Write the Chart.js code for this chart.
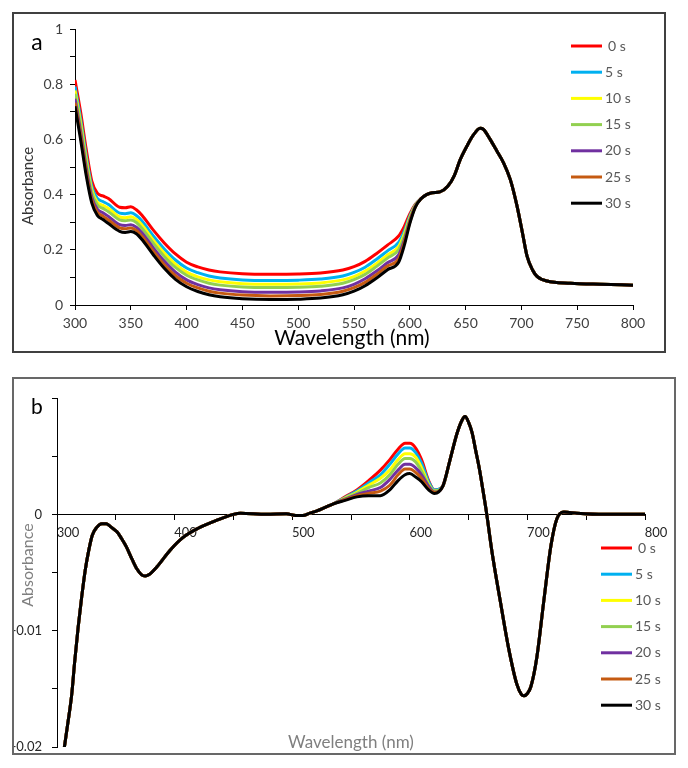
<!DOCTYPE html>
<html>
<head>
<meta charset="utf-8">
<script src="https://cdn.jsdelivr.net/npm/chart.js@4.4.1/dist/chart.umd.min.js"></script>
<style>
  body { margin: 0; background: #fff; width: 688px; height: 768px; position: relative; overflow: hidden; }
  .panel { position: absolute; }
  .panel canvas { position: absolute; left: 0; top: 0; }
  .frame { position: absolute; left: 0; top: 0; right: 0; bottom: 0; box-sizing: border-box; pointer-events: none; }
  #panelA { left: 12px; top: 12px; width: 654px; height: 341px; }
  #panelA .frame { border: 2px solid #404040; }
  #panelB { left: 12px; top: 377px; width: 664px; height: 378px; }
  #panelB .frame { border: 2px solid #686868; }
</style>
</head>
<body>
<div class="panel" id="panelA"><canvas id="chartA" width="654" height="341"></canvas><div class="frame"></div></div>
<div class="panel" id="panelB"><canvas id="chartB" width="664" height="378"></canvas><div class="frame"></div></div>
<script>
const seriesLabels = ["0 s", "5 s", "10 s", "15 s", "20 s", "25 s", "30 s"];
const seriesColors = ["#ff0000", "#00b0f0", "#ffff00", "#92d050", "#7030a0", "#c55a11", "#000000"];

// ---- panel a: absorbance spectra ----
// wavelengths where the seven spectra are apart
const wlA = [300, 305, 310, 315, 320, 325, 330, 340, 345, 350, 355, 360, 370, 380, 390, 400, 410, 420, 430, 450, 475, 500, 520, 540, 550, 560, 570, 580, 590, 595, 600, 605];
const absA0s  = [0.815, 0.700, 0.565, 0.450, 0.405, 0.395, 0.386, 0.354, 0.352, 0.356, 0.345, 0.325, 0.272, 0.225, 0.185, 0.155, 0.138, 0.127, 0.120, 0.113, 0.111, 0.112, 0.116, 0.127, 0.139, 0.158, 0.186, 0.217, 0.250, 0.284, 0.330, 0.365];
const absA5s  = [0.792, 0.676, 0.542, 0.431, 0.386, 0.375, 0.364, 0.333, 0.331, 0.334, 0.324, 0.304, 0.251, 0.203, 0.163, 0.134, 0.117, 0.105, 0.098, 0.091, 0.089, 0.090, 0.094, 0.105, 0.118, 0.137, 0.165, 0.196, 0.227, 0.267, 0.322, 0.363];
const absA10s = [0.777, 0.660, 0.527, 0.418, 0.373, 0.361, 0.350, 0.319, 0.316, 0.320, 0.310, 0.290, 0.236, 0.188, 0.148, 0.119, 0.102, 0.091, 0.084, 0.077, 0.075, 0.076, 0.080, 0.091, 0.103, 0.123, 0.150, 0.181, 0.212, 0.256, 0.316, 0.361];
const absA15s = [0.765, 0.647, 0.515, 0.408, 0.363, 0.350, 0.338, 0.308, 0.305, 0.308, 0.299, 0.278, 0.225, 0.176, 0.136, 0.108, 0.091, 0.079, 0.072, 0.065, 0.063, 0.064, 0.068, 0.079, 0.092, 0.111, 0.139, 0.170, 0.200, 0.247, 0.311, 0.360];
const absA20s = [0.747, 0.628, 0.497, 0.392, 0.347, 0.334, 0.321, 0.291, 0.288, 0.291, 0.282, 0.262, 0.208, 0.159, 0.119, 0.091, 0.074, 0.062, 0.055, 0.048, 0.046, 0.047, 0.051, 0.062, 0.075, 0.095, 0.122, 0.153, 0.182, 0.234, 0.305, 0.358];
const absA25s = [0.733, 0.614, 0.483, 0.381, 0.336, 0.322, 0.308, 0.279, 0.276, 0.279, 0.270, 0.249, 0.196, 0.146, 0.106, 0.079, 0.062, 0.050, 0.043, 0.036, 0.033, 0.034, 0.038, 0.050, 0.063, 0.082, 0.110, 0.141, 0.168, 0.225, 0.300, 0.356];
const absA30s = [0.720, 0.600, 0.470, 0.370, 0.325, 0.310, 0.295, 0.267, 0.263, 0.266, 0.258, 0.237, 0.183, 0.133, 0.093, 0.066, 0.049, 0.037, 0.030, 0.023, 0.020, 0.021, 0.025, 0.037, 0.050, 0.070, 0.097, 0.128, 0.155, 0.215, 0.295, 0.355];
// above 605 nm all spectra lie on top of each other
const wlTailA  = [610, 615, 620, 627, 634, 640, 645, 651, 657, 663, 666, 672, 678, 684, 690, 696, 701, 705, 710, 714, 723, 744, 770, 800];
const absTailA = [0.385, 0.400, 0.407, 0.410, 0.430, 0.470, 0.525, 0.574, 0.616, 0.640, 0.636, 0.600, 0.558, 0.515, 0.455, 0.360, 0.260, 0.178, 0.127, 0.104, 0.087, 0.079, 0.075, 0.072];

// ---- panel b: difference spectra ----
const wlHeadB = [306, 309, 312.5, 315, 318, 321, 324, 327, 330, 334, 338, 342, 346, 351, 355, 359, 364, 368, 372, 375, 378, 385, 396, 407, 420, 436, 450, 456, 478, 495, 503, 509, 515, 521, 528];
const diffHeadB = [-0.0202, -0.0181, -0.0155, -0.0127, -0.0097, -0.0071, -0.0048, -0.0031, -0.0018, -0.0011, -0.0008, -0.0008, -0.0011, -0.0015, -0.0021, -0.0028, -0.0039, -0.0047, -0.0052, -0.0053, -0.0052, -0.0045, -0.0031, -0.0020, -0.0012, -0.0005, 0, 0.0001, 0, 0.00005, -0.0001, -0.0001, 0.0001, 0.0003, 0.0006];
const wlMidB = [535, 545, 555, 565, 575, 583, 590, 596, 600, 605, 610, 616, 621];
const diffB0s  = [0.0009, 0.0015, 0.0021, 0.0029, 0.0038, 0.0047, 0.0056, 0.0061, 0.0061, 0.0057, 0.0047, 0.0029, 0.0021];
const diffB5s  = [0.0009, 0.00145, 0.0020, 0.0027, 0.0034, 0.0043, 0.0052, 0.0057, 0.0057, 0.0053, 0.0044, 0.0028, 0.0021];
const diffB10s = [0.0009, 0.0014, 0.0019, 0.0025, 0.0031, 0.0038, 0.0047, 0.0052, 0.0052, 0.0049, 0.0040, 0.0026, 0.0020];
const diffB15s = [0.0009, 0.00135, 0.0018, 0.0023, 0.0027, 0.0034, 0.0043, 0.0048, 0.0048, 0.0045, 0.0037, 0.0025, 0.0020];
const diffB20s = [0.0009, 0.0013, 0.0017, 0.0020, 0.0023, 0.0030, 0.0038, 0.0043, 0.0043, 0.0040, 0.0034, 0.0024, 0.0019];
const diffB25s = [0.0009, 0.00125, 0.0016, 0.0018, 0.0020, 0.0025, 0.0034, 0.0039, 0.0039, 0.0036, 0.0031, 0.0022, 0.0019];
const diffB30s = [0.0009, 0.0012, 0.0015, 0.0016, 0.0016, 0.0021, 0.0029, 0.0034, 0.0035, 0.0032, 0.0028, 0.0021, 0.0018];
const wlTailB = [628, 634, 640, 644, 647, 650, 653, 656, 659, 662, 665, 670, 677, 684, 691, 695, 697, 700, 703, 708, 714, 720, 725, 731, 742, 765, 800];
const diffTailB = [0.0024, 0.0046, 0.0069, 0.0080, 0.0084, 0.0079, 0.0070, 0.0055, 0.0040, 0.0022, 0.0003, -0.0033, -0.0075, -0.0115, -0.0146, -0.0155, -0.0156, -0.0154, -0.0148, -0.0123, -0.0074, -0.0027, -0.0004, 0.0002, 0.0001, 0, 0];

const seriesA = [absA0s, absA5s, absA10s, absA15s, absA20s, absA25s, absA30s];
const seriesB = [diffB0s, diffB5s, diffB10s, diffB15s, diffB20s, diffB25s, diffB30s];

function toPoints(xs, ys) {
  return xs.map((x, i) => ({ x, y: ys[i] }));
}

// draws legend, panel letter and axis titles where the original puts them
const panelExtras = {
  id: "panelExtras",
  afterDraw(chart, args, opts) {
    const ctx = chart.ctx;
    ctx.save();
    ctx.textBaseline = "middle";

    ctx.fillStyle = "#000";
    ctx.font = opts.letterFont;
    ctx.textAlign = "center";
    ctx.fillText(opts.letter, opts.letterX, opts.letterY);

    chart.data.datasets.forEach((ds, i) => {
      const y = opts.legendY + i * opts.legendStep;
      ctx.strokeStyle = ds.borderColor;
      ctx.lineWidth = 3;
      ctx.beginPath();
      ctx.moveTo(opts.legendX, y);
      ctx.lineTo(opts.legendX + 31, y);
      ctx.stroke();
      ctx.fillStyle = "#595959";
      ctx.font = "14px Lato";
      ctx.textAlign = "left";
      ctx.fillText(ds.label, opts.legendX + 34 + (i === 0 ? 3 : 0), y);
    });

    ctx.fillStyle = opts.titleColor;
    ctx.font = opts.xTitleFont;
    ctx.textAlign = "center";
    ctx.fillText("Wavelength (nm)", opts.xTitleX, opts.xTitleY);

    ctx.fillStyle = opts.yTitleColor;
    ctx.font = opts.yTitleFont;
    ctx.translate(opts.yTitleX, opts.yTitleY);
    ctx.rotate(-Math.PI / 2);
    ctx.fillText("Absorbance", 0, 0);
    ctx.restore();
  }
};

function buildDatasets(parts) {
  return seriesLabels.map((label, i) => ({
    label,
    data: parts(i),
    borderColor: seriesColors[i],
    borderWidth: 3,
    pointRadius: 0,
    fill: false,
    cubicInterpolationMode: "monotone",
    order: seriesLabels.length - 1 - i
  }));
}

const tickGrid = { drawOnChartArea: false, drawTicks: true, tickLength: 5, tickColor: "#000", tickWidth: 1 };

new Chart(document.getElementById("chartA"), {
  type: "line",
  data: {
    datasets: buildDatasets((i) => toPoints(wlA, seriesA[i]).concat(toPoints(wlTailA, absTailA)))
  },
  options: {
    responsive: false,
    animation: false,
    layout: { padding: { top: 17, right: 33, left: 0, bottom: 0 } },
    plugins: {
      legend: { display: false },
      tooltip: { enabled: false },
      panelExtras: {
        letter: "a", letterFont: "23px Lato", letterX: 25, letterY: 31,
        legendX: 559, legendY: 34, legendStep: 26.2,
        titleColor: "#000", yTitleColor: "#333",
        xTitleFont: "21px Lato", xTitleX: 340, xTitleY: 326,
        yTitleFont: "15px Lato", yTitleX: 16, yTitleY: 174
      }
    },
    scales: {
      x: {
        type: "linear",
        min: 300, max: 800,
        border: { display: true, color: "#000", width: 1 },
        grid: tickGrid,
        ticks: { stepSize: 50, color: "#404040", font: { family: "Lato", size: 14 }, padding: 5, maxRotation: 0, autoSkip: false },
        afterFit: (s) => { s.height = 48; s.paddingLeft = 0; s.paddingRight = 0; }
      },
      y: {
        min: 0, max: 1,
        border: { display: true, color: "#000", width: 1 },
        grid: tickGrid,
        ticks: {
          stepSize: 0.1, color: "#404040", font: { family: "Lato", size: 14 }, padding: 7, autoSkip: false,
          callback: (v) => { const k = Math.round(v * 10); return k % 2 === 0 ? String(k / 10) : ""; }
        },
        afterFit: (s) => { s.width = 63; s.paddingTop = 0; s.paddingBottom = 0; }
      }
    }
  },
  plugins: [panelExtras]
});

new Chart(document.getElementById("chartB"), {
  type: "line",
  data: {
    datasets: buildDatasets((i) => toPoints(wlHeadB, diffHeadB).concat(toPoints(wlMidB, seriesB[i]), toPoints(wlTailB, diffTailB)))
  },
  options: {
    responsive: false,
    animation: false,
    layout: { padding: { top: 21, right: 31, left: 0, bottom: 8 } },
    plugins: {
      legend: { display: false },
      tooltip: { enabled: false },
      panelExtras: {
        letter: "b", letterFont: "21px Lato", letterX: 25, letterY: 30,
        legendX: 589, legendY: 171, legendStep: 26.2,
        titleColor: "#7f7f7f", yTitleColor: "#7f7f7f",
        xTitleFont: "17px Lato", xTitleX: 339, xTitleY: 366,
        yTitleFont: "16px Lato", yTitleX: 16, yTitleY: 188
      }
    },
    scales: {
      x: {
        type: "linear",
        position: { y: 0 },
        min: 300, max: 800,
        border: { display: true, color: "#000", width: 1 },
        grid: tickGrid,
        ticks: {
          stepSize: 50, color: "#262626", font: { family: "Lato", size: 13 }, padding: 6, labelOffset: 11, maxRotation: 0, autoSkip: false,
          callback: (v) => (v % 100 === 0 ? String(v) : "")
        },
        afterFit: (s) => { s.paddingLeft = 0; s.paddingRight = 0; }
      },
      y: {
        min: -0.02, max: 0.01,
        border: { display: true, color: "#000", width: 1 },
        grid: tickGrid,
        ticks: {
          stepSize: 0.005, color: "#262626", font: { family: "Lato", size: 13 }, padding: 10, autoSkip: false,
          callback: (v) => {
            const k = Math.round(v * 1000);
            if (k > 0 || k % 10 !== 0) return "";
            return k === 0 ? "0" : String(k / 1000);
          }
        },
        afterFit: (s) => { s.width = 45; s.paddingTop = 0; s.paddingBottom = 0; }
      }
    }
  },
  plugins: [panelExtras]
});
</script>
</body>
</html>
